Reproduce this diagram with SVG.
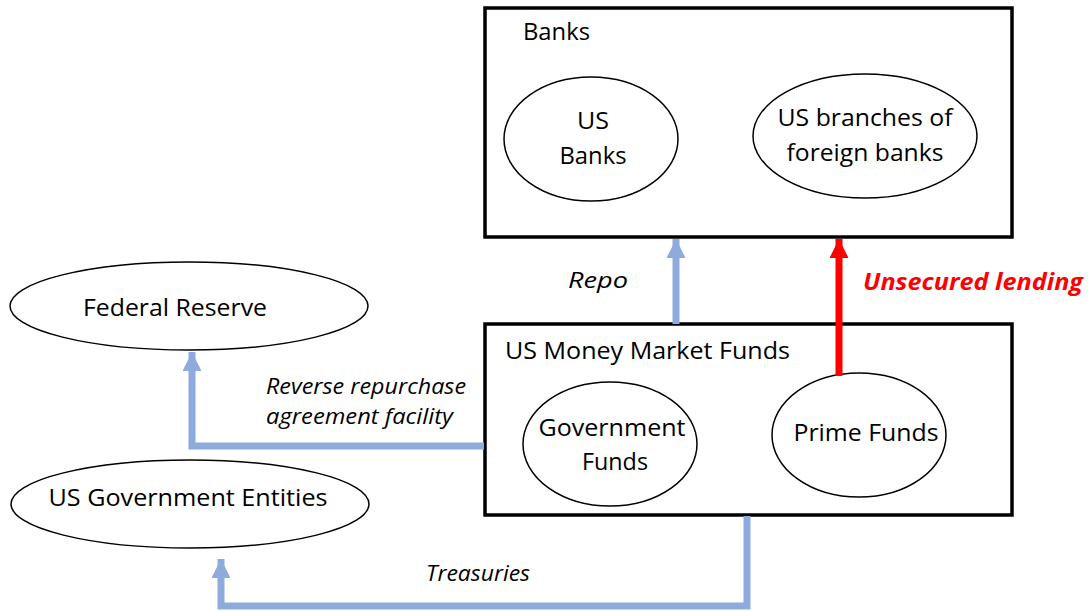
<svg xmlns="http://www.w3.org/2000/svg" width="1089" height="611" viewBox="0 0 1089 611">
  <style>
    .box { fill: #ffffff; stroke: #000000; stroke-width: 3.5; }
    .oval { fill: #ffffff; stroke: #000000; stroke-width: 1.5; }
    .lbl { font-family: "Open Sans", "Liberation Sans", sans-serif; font-size: 24px; fill: #000000; }
    .mid { text-anchor: middle; }
    .edge { font-family: "Open Sans", "Liberation Sans", sans-serif; font-size: 21.5px; font-style: italic; fill: #000000; }
    .warn { font-weight: bold; fill: #FF0000; font-size: 23.5px; }
    .flow { fill: none; stroke: #8FAADC; stroke-width: 7; }
    .hot { fill: none; stroke: #FF0000; stroke-width: 7; }
  </style>
  <defs>
    <marker id="headBlue" viewBox="0 0 10 10" refX="10" refY="5" markerWidth="2.7" markerHeight="2.7" orient="auto" markerUnits="strokeWidth">
      <path d="M0,0 L10,5 L0,10 Z" fill="#8FAADC"/>
    </marker>
    <marker id="headRed" viewBox="0 0 10 10" refX="10" refY="5" markerWidth="2.7" markerHeight="2.7" orient="auto" markerUnits="strokeWidth">
      <path d="M0,0 L10,5 L0,10 Z" fill="#FF0000"/>
    </marker>
  </defs>

  <rect width="1089" height="611" fill="#ffffff"/>

  <!-- Banks group -->
  <g id="banks">
    <rect class="box" x="485" y="8" width="527" height="229"/>
    <text class="lbl" x="523" y="40" textLength="67" lengthAdjust="spacingAndGlyphs">Banks</text>
  </g>
  <g id="us-banks">
    <ellipse class="oval" cx="591" cy="139" rx="87" ry="62"/>
    <text class="lbl mid" x="593" y="129" textLength="32" lengthAdjust="spacingAndGlyphs">US</text>
    <text class="lbl mid" x="593" y="164" textLength="67" lengthAdjust="spacingAndGlyphs">Banks</text>
  </g>
  <g id="foreign-banks">
    <ellipse class="oval" cx="865" cy="136" rx="112" ry="62"/>
    <text class="lbl mid" x="865" y="126" textLength="175" lengthAdjust="spacingAndGlyphs">US branches of</text>
    <text class="lbl mid" x="865" y="161" textLength="157" lengthAdjust="spacingAndGlyphs">foreign banks</text>
  </g>

  <!-- Money market funds group -->
  <g id="mmf">
    <rect class="box" x="485" y="324" width="527" height="191"/>
    <text class="lbl" x="505" y="359" textLength="285" lengthAdjust="spacingAndGlyphs">US Money Market Funds</text>
  </g>
  <g id="government-funds">
    <ellipse class="oval" cx="610" cy="444" rx="87" ry="62"/>
    <text class="lbl mid" x="612" y="436" textLength="147" lengthAdjust="spacingAndGlyphs">Government</text>
    <text class="lbl mid" x="615" y="470" textLength="66" lengthAdjust="spacingAndGlyphs">Funds</text>
  </g>
  <g id="prime-funds">
    <ellipse class="oval" cx="859" cy="435" rx="87" ry="62"/>
    <text class="lbl mid" x="866" y="441" textLength="145" lengthAdjust="spacingAndGlyphs">Prime Funds</text>
  </g>

  <!-- Counterparties -->
  <g id="federal-reserve">
    <ellipse class="oval" cx="189" cy="306" rx="179" ry="44"/>
    <text class="lbl mid" x="175" y="316" textLength="184" lengthAdjust="spacingAndGlyphs">Federal Reserve</text>
  </g>
  <g id="us-government">
    <ellipse class="oval" cx="190" cy="504" rx="179" ry="44"/>
    <text class="lbl mid" x="188" y="506" textLength="279" lengthAdjust="spacingAndGlyphs">US Government Entities</text>
  </g>

  <!-- Flows -->
  <g id="connectors">
    <path class="flow" d="M676,324 V239" marker-end="url(#headBlue)"/>
    <path class="hot" d="M839,376 V239" marker-end="url(#headRed)"/>
    <path class="flow" d="M484,446 H192 V352" marker-end="url(#headBlue)"/>
    <path class="flow" d="M747,516 V606 H221 V559" marker-end="url(#headBlue)"/>
    <text class="edge" x="568" y="288" textLength="60" lengthAdjust="spacingAndGlyphs">Repo</text>
    <text class="edge warn" x="863" y="290" textLength="220" lengthAdjust="spacingAndGlyphs">Unsecured lending</text>
    <text class="edge" x="266" y="394" textLength="200" lengthAdjust="spacingAndGlyphs">Reverse repurchase</text>
    <text class="edge" x="266" y="424" textLength="187" lengthAdjust="spacingAndGlyphs">agreement facility</text>
    <text class="edge" x="426" y="581" textLength="104" lengthAdjust="spacingAndGlyphs">Treasuries</text>
  </g>
</svg>
